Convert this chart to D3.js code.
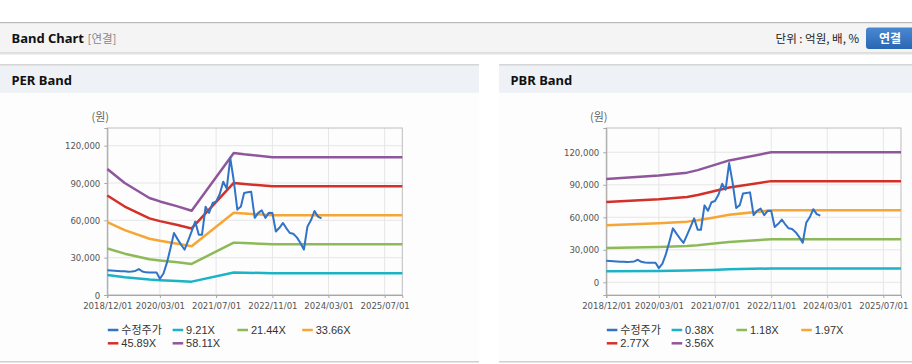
<!DOCTYPE html>
<html>
<head>
<meta charset="utf-8">
<script src="https://cdn.jsdelivr.net/npm/d3@7/dist/d3.min.js"></script>
<style>
  html, body { margin: 0; padding: 0; background: #ffffff; }
  svg { display: block; }
  text { font-family: "Liberation Sans", Arial, "Noto Sans CJK KR", sans-serif; }
</style>
</head>
<body>
<svg id="chart" width="912" height="364"></svg>
<script>
// ---------------- DATA ----------------
const priceMonths = [
  "2018-12","2019-01","2019-02","2019-03","2019-04","2019-05","2019-06","2019-07","2019-08","2019-09","2019-10","2019-11",
  "2019-12","2020-01","2020-02","2020-03","2020-04","2020-05","2020-06","2020-07","2020-08","2020-09","2020-10","2020-11",
  "2020-12","2021-01","2021-02","2021-03","2021-04","2021-05","2021-06","2021-07","2021-08","2021-09","2021-10","2021-11",
  "2021-12","2022-01","2022-02","2022-03","2022-04","2022-05","2022-06","2022-07","2022-08","2022-09","2022-10","2022-11",
  "2022-12","2023-01","2023-02","2023-03","2023-04","2023-05","2023-06","2023-07","2023-08","2023-09","2023-10","2023-11",
  "2023-12","2024-01"
];
const priceValues = [
  19800,19600,19400,19200,19000,19000,18700,18900,19300,20800,18900,18200,
  18100,18100,18000,13100,17300,26000,37700,49800,44900,40400,36400,43700,
  51100,59000,48500,48500,71000,66000,73900,75000,81000,91000,85500,110000,
  92000,68600,71200,82000,82500,83000,62000,66000,68000,62000,66000,65900,
  51000,54000,57900,53800,49800,49200,46300,42000,36500,55100,60000,67500,
  63000,61500
];

// PER band breakpoints
const perBandDates = ["2018-12-01","2019-05-01","2019-12-01","2020-03-01","2020-08-01","2020-12-01","2021-12-01","2022-03-01","2022-11-01","2025-12-01"];
const per921  = [16044,14266,12360,11918,11282,10739,18079,17913,17545,17545];
const per2144 = [37348,33211,28772,27743,26264,24999,42087,41701,40843,40843];
const per3366 = [58636,52139,45172,43556,41234,39248,66075,65469,64122,64122];
const per4589 = [79940,71084,61584,59382,56215,53508,90083,89256,87420,87420];
const per5811 = [101228,90012,77984,75194,71185,67756,114070,113024,110700,110700];

// PBR band breakpoints
const pbrBandDates = ["2018-12-01","2020-03-01","2020-11-01","2021-02-01","2021-06-01","2021-11-01","2022-11-01","2025-12-01"];
const pbr038 = [10178,10514,10802,11048,11464,12008,12809,12809];
const pbr118 = [31605,32649,33544,34306,35599,37289,39775,39775];
const pbr197 = [52764,54508,56001,57274,59433,62254,66405,66405];
const pbr277 = [74192,76643,78743,80532,83568,87535,93371,93371];
const pbr356 = [95351,98502,101200,103500,107402,112500,120000,120000];

const perLabels = ["수정주가","9.21X","21.44X","33.66X","45.89X","58.11X"];
const pbrLabels = ["수정주가","0.38X","1.18X","1.97X","2.77X","3.56X"];
const seriesColors = ["#3173c6","#1bb3c6","#8dba58","#f5a634","#d3302a","#8f579b"];

const xTickDates = ["2018-12-01","2020-03-01","2021-07-01","2022-11-01","2024-03-01","2025-07-01"];
const xTickLabels = ["2018/12/01","2020/03/01","2021/07/01","2022/11/01","2024/03/01","2025/07/01"];
const yTickValues = [0,30000,60000,90000,120000];

// ---------------- DRAW ----------------
const svg = d3.select("#chart");
const parseDay = d3.utcParse("%Y-%m-%d");
const parseMonth = d3.utcParse("%Y-%m");

// Header
svg.append("rect").attr("x",0).attr("y",22).attr("width",912).attr("height",1.5).attr("fill","#b9b9b9");
svg.append("rect").attr("x",0).attr("y",23.5).attr("width",912).attr("height",29).attr("fill","#f4f4f4");
svg.append("rect").attr("x",0).attr("y",52.5).attr("width",912).attr("height",1).attr("fill","#c4c4c4");
svg.append("rect").attr("x",0).attr("y",53.5).attr("width",912).attr("height",1).attr("fill","#e2e2e2");
svg.append("text").attr("x",11.5).attr("y",43).attr("font-size",13).attr("font-weight","bold")
  .attr("fill","#111").style("font-family","'Noto Sans','Noto Sans CJK KR',sans-serif").text("Band Chart");
svg.append("text").attr("x",87.5).attr("y",43).attr("font-size",11.5).attr("fill","#888")
  .style("font-family","'Noto Sans CJK KR',sans-serif").text("[연결]");
svg.append("text").attr("x",859).attr("y",43).attr("text-anchor","end").attr("font-size",11.5).attr("fill","#222")
  .style("font-family","'Noto Sans CJK KR',sans-serif").text("단위 : 억원, 배, %");
const btnGrad = svg.append("defs").append("linearGradient").attr("id","btnG").attr("x1",0).attr("y1",0).attr("x2",0).attr("y2",1);
btnGrad.append("stop").attr("offset","0%").attr("stop-color","#4a88d2");
btnGrad.append("stop").attr("offset","100%").attr("stop-color","#2a67b3");
svg.append("rect").attr("x",866).attr("y",27.5).attr("width",52).attr("height",21.5).attr("rx",3).attr("fill","url(#btnG)");
svg.append("text").attr("x",890).attr("y",43).attr("text-anchor","middle").attr("font-size",12).attr("font-weight","bold")
  .attr("fill","#fff").style("font-family","'Noto Sans CJK KR',sans-serif").text("연결");

function drawPanel(cfg) {
  const g = svg.append("g");
  // panel background & frame
  g.append("rect").attr("x",cfg.px).attr("y",64).attr("width",cfg.pw).attr("height",297.5).attr("fill","#fdfdfd");
  g.append("rect").attr("x",cfg.px).attr("y",64).attr("width",cfg.pw).attr("height",1.8).attr("fill","#d6d6d6");
  g.append("rect").attr("x",cfg.px).attr("y",65.8).attr("width",cfg.pw).attr("height",27).attr("fill","#eef2f6");
  g.append("rect").attr("x",cfg.px).attr("y",361).attr("width",cfg.pw).attr("height",1.5).attr("fill","#d0d0d0");
  g.append("text").attr("x",cfg.px+11.5).attr("y",84.5).attr("font-size",13).attr("font-weight","bold").attr("fill","#111")
    .style("font-family","'Noto Sans',sans-serif").text(cfg.title);

  const x = d3.scaleUtc().domain([parseDay("2018-12-01"), parseDay("2025-12-01")]).range([cfg.x0, cfg.x1]);
  const y = d3.scaleLinear().domain(cfg.yDomain).range([295, 128]);

  // grid
  const tickDates = xTickDates.map(parseDay);
  g.append("g").selectAll("line").data(tickDates).join("line")
    .attr("x1",d=>x(d)).attr("x2",d=>x(d)).attr("y1",128).attr("y2",295)
    .attr("stroke","#e6e6e6").attr("stroke-width",1);
  g.append("g").selectAll("line").data(yTickValues).join("line")
    .attr("x1",cfg.x0).attr("x2",cfg.x1).attr("y1",d=>y(d)).attr("y2",d=>y(d))
    .attr("stroke","#e6e6e6").attr("stroke-width",1);

  // frame
  g.append("rect").attr("x",cfg.x0).attr("y",128).attr("width",cfg.x1-cfg.x0).attr("height",167)
    .attr("fill","none").attr("stroke","#bdbdbd").attr("stroke-width",1);

  // axes
  const xAxis = d3.axisBottom(x).tickValues(tickDates).tickSize(3).tickPadding(4)
    .tickFormat((d,i)=>xTickLabels[i]);
  const xa = g.append("g").attr("transform","translate(0,295)").call(xAxis);
  xa.select(".domain").attr("stroke","#a8a8a8");
  xa.selectAll(".tick line").attr("stroke","#a8a8a8");
  xa.selectAll("text").attr("font-size",9.5).attr("fill","#555")
    .style("font-family","'DejaVu Sans Condensed','Liberation Sans',sans-serif");

  const yAxis = d3.axisLeft(y).tickValues(yTickValues).tickSize(3).tickPadding(4).tickFormat(d3.format(","));
  const ya = g.append("g").attr("transform",`translate(${cfg.x0},0)`).call(yAxis);
  ya.select(".domain").attr("stroke","#a8a8a8");
  ya.selectAll(".tick line").attr("stroke","#a8a8a8");
  ya.selectAll("text").attr("font-size",9.5).attr("fill","#555")
    .style("font-family","'DejaVu Sans Condensed','Liberation Sans',sans-serif");

  g.append("text").attr("x",cfg.unitX).attr("y",121).attr("font-size",11).attr("fill","#666")
    .style("font-family","'Noto Sans CJK KR',sans-serif").text("(원)");

  // bands
  const bandDates = cfg.bandDates.map(parseDay);
  const line = d3.line().x(d=>x(d[0])).y(d=>y(d[1]));
  cfg.bands.forEach((vals,i)=>{
    g.append("path").datum(bandDates.map((d,j)=>[d, vals[j]]))
      .attr("d", line).attr("fill","none").attr("stroke", seriesColors[i+1])
      .attr("stroke-width",2.5).attr("stroke-linejoin","round");
  });
  // price
  const pDates = priceMonths.map(parseMonth);
  g.append("path").datum(pDates.map((d,j)=>[d, priceValues[j]]))
    .attr("d", line).attr("fill","none").attr("stroke", seriesColors[0])
    .attr("stroke-width",2).attr("stroke-linejoin","round");

  // legend
  const lg = g.append("g");
  cfg.labels.forEach((lab,i)=>{
    const col = i % 4, row = Math.floor(i/4);
    const lx = cfg.x0 + 0.5 + col*64.8, ly = 330 + row*13.3;
    lg.append("line").attr("x1",lx).attr("x2",lx+10.6).attr("y1",ly).attr("y2",ly)
      .attr("stroke",seriesColors[i]).attr("stroke-width",2.5);
    lg.append("text").attr("x",lx+13.5).attr("y",ly+4).attr("font-size",11).attr("fill","#333")
      .text(lab);
  });
}

drawPanel({px:0, pw:479, title:"PER Band", x0:107.3, x1:402.3, yDomain:[0,134200], unitX:91.5,
  bandDates: perBandDates, bands:[per921, per2144, per3366, per4589, per5811], labels: perLabels});
drawPanel({px:499, pw:413, title:"PBR Band", x0:606.3, x1:901, yDomain:[-11700,142400], unitX:590,
  bandDates: pbrBandDates, bands:[pbr038, pbr118, pbr197, pbr277, pbr356], labels: pbrLabels});
</script>
</body>
</html>
